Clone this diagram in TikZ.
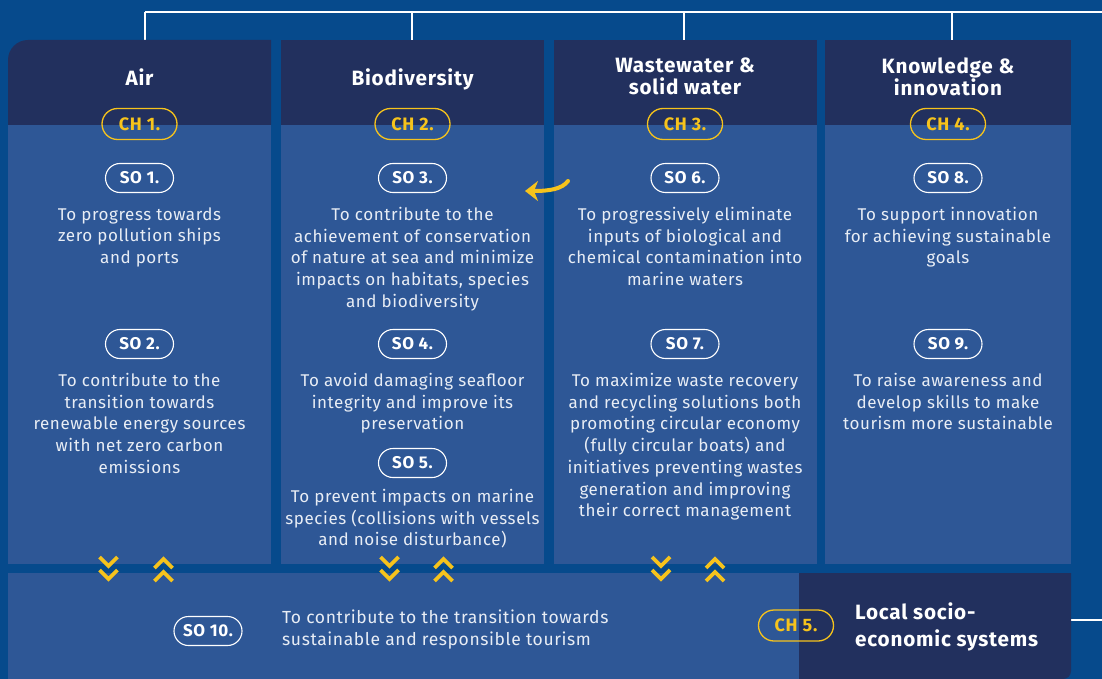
\documentclass[tikz,border=0pt]{standalone}
\usepackage{fontspec}
\setmainfont{Fira Sans}
\newfontfamily\goalfont[LetterSpace=3.4]{Fira Sans}
\newfontfamily\capfont[LetterSpace=3.8]{Fira Sans}
\usetikzlibrary{positioning, shapes.misc, arrows.meta, calc}
\definecolor{seabg}{HTML}{064A8C}
\definecolor{navyhd}{HTML}{22305E}
\definecolor{panel}{HTML}{2E5796}
\definecolor{gold}{HTML}{F6C31C}
\definecolor{paletxt}{HTML}{E8EDF5}

\begin{document}
\begin{tikzpicture}[x=1pt, y=-1pt,
		wire/.style={draw=white, line width=1.8pt},
		head/.style={text=white, align=center, inner sep=0pt, font=\capfont\fontsize{20.7}{22}\selectfont\bfseries},
		chpill/.style={rounded rectangle, draw=gold, text=gold, line width=1.3pt, inner sep=0pt, minimum width=75pt, minimum height=31pt, font=\capfont\fontsize{18}{20}\selectfont\bfseries},
		sopill/.style={rounded rectangle, draw=white, text=white, line width=1.1pt, inner sep=0pt, minimum width=68pt, minimum height=29pt, font=\capfont\fontsize{17}{19}\selectfont\bfseries},
		goal/.style={text=paletxt, align=center, inner sep=0pt, font=\goalfont\fontsize{17}{21.7}\selectfont},
		chev/.style={draw=gold, line width=3.6pt, line join=miter}]
		\useasboundingbox (0,0) rectangle (1102,679);
		\fill[seabg] (0,0) rectangle (1102,679);
		\coordinate (rt) at (1102,12);
		\coordinate (j1) at (145,12);
		\coordinate (j2) at (412,12);
		\coordinate (j3) at (684,12);
		\coordinate (j4) at (952,12);
		\coordinate (rb) at (1102,620);
		\draw[wire] (rt) -- (j1);
		\foreach \j in {1,...,4} \draw[wire] (j\j) -- ++(0,28);
		\draw[wire] (rb) -- ++(-31,0);
		\fill[navyhd] (8,125) -- (8,60) arc[start angle=180, end angle=270, radius=20] -- (271,40) -- (271,125) -- cycle;
		\fill[panel] (8,125) rectangle (271,564);
		\foreach \xl/\xr in {281/544, 554/816.5, 825/1071} {
			\fill[navyhd] (\xl,40) rectangle (\xr,125);
			\fill[panel] (\xl,125) rectangle (\xr,564);
		}
		\fill[panel] (8,573) rectangle (799,679);
		\fill[navyhd] (799,573) -- (1071,573) -- (1071,671) arc[start angle=0, end angle=90, radius=8] -- (799,679) -- cycle;

		\node[head, anchor=base] (h1) at (139.5,86) {Air};
		\node[head, anchor=base] (h2) at (412.5,86) {Biodiversity};
		\node[head] (h3) at (685,76.5) {Wastewater \&\\solid water};
		\node[head] (h4) at (948,76.5) {Knowledge \&\\innovation};
		\node[chpill] (ch1) at (139.5,124) {CH 1.};
		\node[chpill] (ch2) at (412.5,124) {CH 2.};
		\node[chpill] (ch3) at (685,124) {CH 3.};
		\node[chpill] (ch4) at (948,124) {CH 4.};

		\node[sopill] (so1) at (139.5,178) {SO 1.};
		\node[goal, below=14pt of so1] (g1) {To progress towards\\zero pollution ships\\and ports};
		\node[sopill] (so2) at (139.5,344) {SO 2.};
		\node[goal, below=14pt of so2] (g2) {To contribute to the\\transition towards\\renewable energy sources\\with net zero carbon\\emissions};

		\node[sopill] (so3) at (412.5,178) {SO 3.};
		\node[goal, below=14pt of so3] (g3) {To contribute to the\\achievement of conservation\\of nature at sea and minimize\\impacts on habitats, species\\and biodiversity};
		\node[sopill] (so4) at (412.5,344) {SO 4.};
		\node[goal, below=14pt of so4] (g4) {To avoid damaging seafloor\\integrity and improve its\\preservation};
		\node[sopill] (so5) at (412.5,463) {SO 5.};
		\node[goal, below=11pt of so5] (g5) {To prevent impacts on marine\\species (collisions with vessels\\and noise disturbance)};

		\node[sopill] (so6) at (685,178) {SO 6.};
		\node[goal, below=14pt of so6] (g6) {To progressively eliminate\\inputs of biological and\\chemical contamination into\\marine waters};
		\node[sopill] (so7) at (685,344) {SO 7.};
		\node[goal, below=14pt of so7] (g7) {To maximize waste recovery\\and recycling solutions both\\promoting circular economy\\(fully circular boats) and\\initiatives preventing wastes\\generation and improving\\their correct management};

		\node[sopill] (so8) at (948,178) {SO 8.};
		\node[goal, below=14pt of so8] (g8) {To support innovation\\for achieving sustainable\\goals};
		\node[sopill] (so9) at (948,344) {SO 9.};
		\node[goal, below=14pt of so9] (g9) {To raise awareness and\\develop skills to make\\tourism more sustainable};

		\node[sopill] (so10) at (208,631) {SO 10.};
		\node[goal, align=left, anchor=west, font=\goalfont\fontsize{17.5}{22}\selectfont] (g10) at (282,630) {To contribute to the transition towards\\sustainable and responsible tourism};
		\node[chpill] (ch5) at (796,625.5) {CH 5.};
		\node[head, align=left, anchor=west, font=\capfont\fontsize{20.7}{26.5}\selectfont\bfseries] (h5) at (855,627) {Local socio-\\economic systems};

		\foreach \cx in {108.5, 389.5, 661} {
			\draw[chev] (\cx-9,557) -- (\cx,566) -- (\cx+9,557);
			\draw[chev] (\cx-9,570) -- (\cx,579) -- (\cx+9,570);
		}
		\foreach \cx in {163.5, 443.5, 715} {
			\draw[chev] (\cx-9,568) -- (\cx,559) -- (\cx+9,568);
			\draw[chev] (\cx-9,581) -- (\cx,572) -- (\cx+9,581);
		}

		\coordinate (as) at (568,181);
		\coordinate (ae) at (525,191);
		\draw[gold, line width=4pt, line cap=round, -{Stealth[length=13pt, width=20pt, inset=4pt]}] (as) .. controls (562,189) and (550,191) .. (ae);
	\end{tikzpicture}
\end{document}
